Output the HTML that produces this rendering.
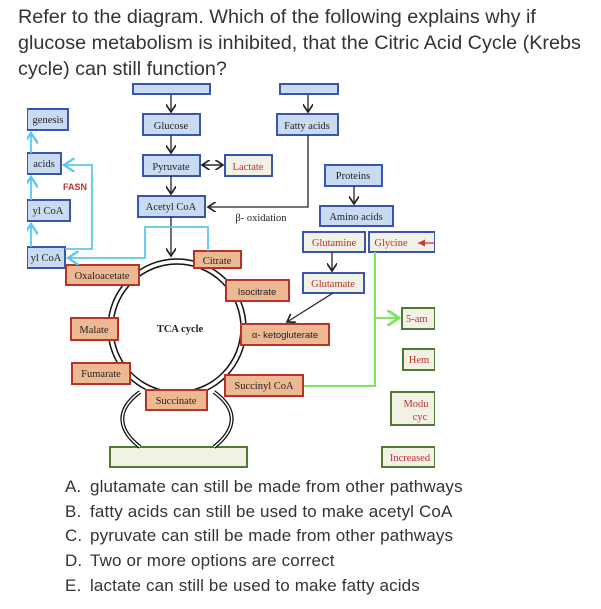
<!DOCTYPE html>
<html><head><meta charset="utf-8"><style>
body{margin:0;width:601px;height:609px;background:#fff;overflow:hidden;position:relative;font-family:"Liberation Sans",Arial,sans-serif}
.q{position:absolute;left:18px;top:4px;font-size:19.8px;line-height:26px;color:#333;width:590px;white-space:nowrap}
.ans{position:absolute;left:65px;font-size:17px;letter-spacing:0.15px;color:#333;white-space:nowrap}
.ans span{display:inline-block;width:25px}
svg{position:absolute;left:0;top:0}
</style></head><body>
<div class="q">Refer to the diagram. Which of the following explains why if<br>glucose metabolism is inhibited, that the Citric Acid Cycle (Krebs<br>cycle) can still function?</div>
<svg width="601" height="609" font-family="Liberation Serif,serif" font-size="10.5">
<defs>
<marker id="ak" markerWidth="8" markerHeight="8" refX="6" refY="4" orient="auto"><path d="M0,0 L6,4 L0,8" fill="none" stroke="#222" stroke-width="1.3"/></marker>
<marker id="ab" markerWidth="8" markerHeight="8" refX="6" refY="4" orient="auto"><path d="M0,0 L6,4 L0,8" fill="none" stroke="#5bc8f0" stroke-width="1.3"/></marker>
<marker id="ag" markerWidth="8" markerHeight="8" refX="6" refY="4" orient="auto"><path d="M0,0 L6,4 L0,8" fill="none" stroke="#7ee85a" stroke-width="1.5"/></marker>
<marker id="ar" markerWidth="8" markerHeight="8" refX="6" refY="4" orient="auto"><path d="M0,1 L6,4 L0,7z" fill="#c33"/></marker>
</defs>
<g fill="#c9dbf3" stroke="#3a55b0" stroke-width="2">
<rect x="133" y="84" width="77" height="10"/><rect x="280" y="84" width="58" height="10"/>
<rect x="27" y="109" width="41" height="21"/><rect x="143" y="114" width="57" height="21"/>
<rect x="277" y="114" width="61" height="21"/><rect x="27" y="153" width="34" height="21"/>
<rect x="143" y="155" width="57" height="21"/><rect x="27" y="200" width="43" height="21"/>
<rect x="138" y="196" width="67" height="21"/><rect x="27" y="247" width="38" height="21"/>
<rect x="325" y="165" width="57" height="21"/><rect x="320" y="206" width="73" height="20"/>
</g>
<g fill="#f1f1e6" stroke="#3a55b0" stroke-width="2">
<rect x="225" y="155" width="47" height="21"/><rect x="303" y="232" width="62" height="20"/>
<rect x="369" y="232" width="66" height="20"/><rect x="303" y="273" width="61" height="20"/>
</g>
<g fill="#f1f1e6" stroke="#4f7a30" stroke-width="2">
<rect x="402" y="308" width="33" height="21"/><rect x="403" y="349" width="32" height="21"/>
<rect x="391" y="392" width="44" height="33"/><rect x="382" y="447" width="53" height="20"/>
<rect x="110" y="447" width="137" height="20"/>
</g>
<circle cx="177" cy="328" r="69" fill="none" stroke="#111" stroke-width="1.5"/>
<circle cx="177" cy="328" r="64" fill="#fff" stroke="#111" stroke-width="1.5"/>
<path d="M140,392 C115,410 118,430 140,447" fill="none" stroke="#111" stroke-width="4"/>
<path d="M140,392 C115,410 118,430 140,447" fill="none" stroke="#fff" stroke-width="1.5"/>
<path d="M214,392 C239,410 236,430 214,447" fill="none" stroke="#111" stroke-width="4"/>
<path d="M214,392 C239,410 236,430 214,447" fill="none" stroke="#fff" stroke-width="1.5"/>
<g fill="#edb993" stroke="#b8322c" stroke-width="2">
<rect x="194" y="251" width="47" height="17"/><rect x="66" y="265" width="73" height="20"/>
<rect x="226" y="280" width="63" height="21"/><rect x="71" y="318" width="47" height="22"/>
<rect x="241" y="324" width="88" height="21"/><rect x="72" y="363" width="58" height="21"/>
<rect x="225" y="375" width="78" height="21"/><rect x="146" y="390" width="61" height="20"/>
</g>
<g stroke="#222" stroke-width="1.3" fill="none">
<line x1="171" y1="95" x2="171" y2="112" marker-end="url(#ak)"/>
<line x1="308" y1="95" x2="308" y2="112" marker-end="url(#ak)"/>
<line x1="171" y1="135" x2="171" y2="153" marker-end="url(#ak)"/>
<line x1="171" y1="176" x2="171" y2="194" marker-end="url(#ak)"/>
<line x1="203" y1="165" x2="223" y2="165" marker-end="url(#ak)"/>
<line x1="221" y1="165" x2="202" y2="165" marker-end="url(#ak)"/>
<polyline points="308,135 308,207 208,207" marker-end="url(#ak)"/>
<line x1="171" y1="217" x2="171" y2="256" marker-end="url(#ak)"/>
<line x1="354" y1="186" x2="354" y2="204" marker-end="url(#ak)"/>
<line x1="332" y1="252" x2="332" y2="271" marker-end="url(#ak)"/>
<line x1="333" y1="293" x2="287" y2="322" marker-end="url(#ak)"/>
</g>
<line x1="440" y1="243" x2="418" y2="243" stroke="#c33" stroke-width="1.2" marker-end="url(#ar)"/>
<g stroke="#5bc8f0" stroke-width="1.8" fill="none">
<polyline points="208,251 208,227 145,227 145,258 68,258" marker-end="url(#ab)"/>
<polyline points="65,249 92,249 92,165 64,165" marker-end="url(#ab)"/>
<line x1="31" y1="247" x2="31" y2="224" marker-end="url(#ab)"/>
<line x1="31" y1="200" x2="31" y2="177" marker-end="url(#ab)"/>
<line x1="31" y1="153" x2="31" y2="133" marker-end="url(#ab)"/>
</g>
<g stroke="#7ee85a" stroke-width="2" fill="none">
<polyline points="304,386 375,386 375,252"/>
<line x1="375" y1="318" x2="399" y2="318" marker-end="url(#ag)"/>
</g>
<g fill="#222" text-anchor="middle">
<text x="48" y="123">genesis</text><text x="171" y="129">Glucose</text>
<text x="307" y="129">Fatty acids</text><text x="44" y="167">acids</text>
<text x="171" y="170">Pyruvate</text><text x="48" y="214">yl CoA</text>
<text x="171" y="210">Acetyl CoA</text><text x="46" y="261">yl CoA</text>
<text x="353" y="179">Proteins</text><text x="356" y="220">Amino acids</text>
<text x="261" y="221">β- oxidation</text>
<text x="217" y="264">Citrate</text><text x="102" y="279">Oxaloacetate</text>
<text x="94" y="333">Malate</text><text x="101" y="377">Fumarate</text>
<text x="264" y="389">Succinyl CoA</text><text x="176" y="404">Succinate</text>
<text x="180" y="332" font-weight="bold">TCA cycle</text>
<text x="257" y="295" font-family="Liberation Sans,sans-serif" font-size="9.5">Isocitrate</text>
<text x="285" y="338" font-family="Liberation Sans,sans-serif" font-size="9.5">α- ketogluterate</text>
</g>
<g fill="#c0302e" text-anchor="middle">
<text x="248" y="170">Lactate</text><text x="75" y="190" font-weight="bold" font-size="9" font-family="Liberation Sans,sans-serif">FASN</text>
<text x="334" y="246">Glutamine</text><text x="391" y="246">Glycine</text>
<text x="333" y="287">Glutamate</text><text x="406" y="322" text-anchor="start">5-am</text>
<text x="419" y="363">Hem</text><text x="416" y="407">Modu</text><text x="420" y="420">cyc</text>
<text x="410" y="461">Increased</text>
</g>
<rect x="435" y="80" width="166" height="390" fill="#fff"/>
<rect x="0" y="80" width="27" height="390" fill="#fff"/>
</svg>
<div class="ans" style="top:477px"><span>A.</span>glutamate can still be made from other pathways</div>
<div class="ans" style="top:502px"><span>B.</span>fatty acids can still be used to make acetyl CoA</div>
<div class="ans" style="top:526px"><span>C.</span>pyruvate can still be made from other pathways</div>
<div class="ans" style="top:551px"><span>D.</span>Two or more options are correct</div>
<div class="ans" style="top:576px"><span>E.</span>lactate can still be used to make fatty acids</div>
</body></html>
